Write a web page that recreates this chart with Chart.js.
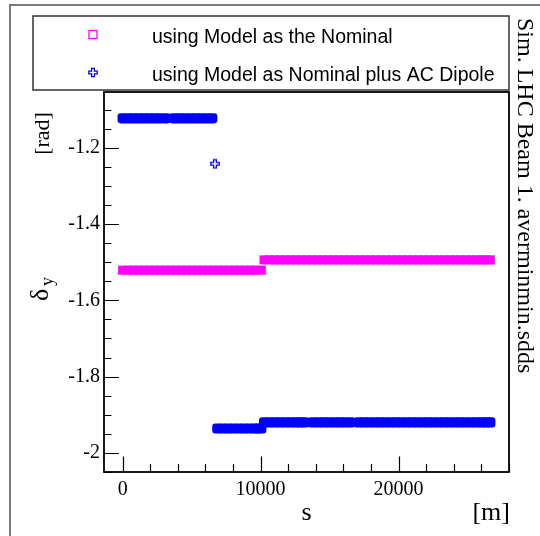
<!DOCTYPE html>
<html>
<head>
<meta charset="utf-8">
<script src="https://cdn.jsdelivr.net/npm/chart.js@4.4.1/dist/chart.umd.min.js"></script>
<style>
  html, body { margin: 0; padding: 0; background: #fff; }
</style>
</head>
<body>
<canvas id="myChart" width="540" height="536"></canvas>
<script>
// BPM positions s [m] and phase deviation delta_y [rad]
const sNominal = [
  0, 380, 770, 1150, 1540, 1920, 2310, 2690, 3080, 3460, 3850, 4230, 4620, 5000,
  5390, 5770, 6160, 6540, 6930, 7310, 7700, 8080, 8470, 8850, 9240, 9620, 10050,
  10250, 10630, 11020, 11400, 11790, 12170, 12560, 12940, 13330, 13710, 14100,
  14480, 14870, 15250, 15640, 16020, 16410, 16790, 17180, 17560, 17950, 18330,
  18720, 19100, 19490, 19870, 20260, 20640, 21030, 21410, 21800, 22180, 22570,
  22950, 23340, 23720, 24110, 24490, 24880, 25260, 25650, 26030, 26340, 26650
];
const dyNominal = [
  -1.521, -1.521, -1.521, -1.521, -1.521, -1.521, -1.521, -1.521, -1.521, -1.521,
  -1.521, -1.521, -1.521, -1.521, -1.521, -1.521, -1.521, -1.521, -1.521, -1.521,
  -1.521, -1.521, -1.521, -1.521, -1.521, -1.521, -1.521,
  -1.494, -1.494, -1.494, -1.494, -1.494, -1.494, -1.494, -1.494, -1.494, -1.494,
  -1.494, -1.494, -1.494, -1.494, -1.494, -1.494, -1.494, -1.494, -1.494, -1.494,
  -1.494, -1.494, -1.494, -1.494, -1.494, -1.494, -1.494, -1.494, -1.494, -1.494,
  -1.494, -1.494, -1.494, -1.494, -1.494, -1.494, -1.494, -1.494, -1.494, -1.494,
  -1.494, -1.494, -1.494, -1.494
];
const sAcDipole = [
  0, 390, 770, 1160, 1540, 1930, 2310, 2700, 3130, 3730, 4120, 4520, 4910, 5300,
  5700, 6100, 6500,
  6690,
  6860, 7240, 7630, 8010, 8400, 8780, 9170, 9550, 9800, 10050,
  10250, 10640, 11030, 11410, 11800, 12180, 12570, 12880, 13190, 13790, 14180,
  14570, 14960, 15350, 15740, 16130, 16510, 17110, 17500, 17890, 18280, 18670,
  19060, 19450, 19840, 20230, 20620, 21010, 21400, 21780, 22170, 22550, 22940,
  23320, 23710, 24090, 24480, 24860, 25250, 25630, 26020, 26340, 26650
];
const dyAcDipole = [
  -1.123, -1.123, -1.123, -1.123, -1.123, -1.123, -1.123, -1.123, -1.123, -1.123,
  -1.123, -1.123, -1.123, -1.123, -1.123, -1.123, -1.123,
  -1.242,
  -1.936, -1.936, -1.936, -1.936, -1.936, -1.936, -1.936, -1.936, -1.936, -1.936,
  -1.920, -1.920, -1.920, -1.920, -1.920, -1.920, -1.920, -1.920, -1.920, -1.920,
  -1.920, -1.920, -1.920, -1.920, -1.920, -1.920, -1.920, -1.920, -1.920, -1.920,
  -1.920, -1.920, -1.920, -1.920, -1.920, -1.920, -1.920, -1.920, -1.920, -1.920,
  -1.920, -1.920, -1.920, -1.920, -1.920, -1.920, -1.920, -1.920, -1.920, -1.920,
  -1.920, -1.920, -1.920
];

const legendLabels = ['using Model as the Nominal', 'using Model as Nominal plus AC Dipole'];
const xTickValues = [0, 10000, 20000];
const yTickValues = [-2, -1.8, -1.6, -1.4, -1.2];
const sideText = 'Sim. LHC Beam 1. averminmin.sdds';

const MAGENTA = '#ff00ff';
const BLUE = '#0000ff';
const SERIF = '"Liberation Serif", "Times New Roman", serif';
const SANS = '"Liberation Sans", Arial, sans-serif';

function openCrossPath(ctx, x, y, h) {
  const a = h / 3;
  ctx.beginPath();
  ctx.moveTo(x - a, y - h); ctx.lineTo(x + a, y - h); ctx.lineTo(x + a, y - a);
  ctx.lineTo(x + h, y - a); ctx.lineTo(x + h, y + a); ctx.lineTo(x + a, y + a);
  ctx.lineTo(x + a, y + h); ctx.lineTo(x - a, y + h); ctx.lineTo(x - a, y + a);
  ctx.lineTo(x - h, y + a); ctx.lineTo(x - h, y - a); ctx.lineTo(x - a, y - a);
  ctx.closePath();
}

// small image used for a lone point of the AC dipole series
const crossImg = document.createElement('canvas');
crossImg.width = 12; crossImg.height = 12;
(function () {
  const c = crossImg.getContext('2d');
  openCrossPath(c, 6, 6, 4.2);
  c.strokeStyle = BLUE; c.lineWidth = 1.3; c.stroke();
})();

function isolated(vals, i) {
  const prev = i > 0 ? Math.abs(vals[i] - vals[i - 1]) : 0;
  const next = i < vals.length - 1 ? Math.abs(vals[i] - vals[i + 1]) : 0;
  return prev > 0.05 && next > 0.05;
}

const rootFrame = {
  id: 'rootFrame',
  beforeDraw(chart) {
    const ctx = chart.ctx;
    ctx.save();
    ctx.fillStyle = '#fff';
    ctx.fillRect(0, 0, chart.width, chart.height);
    ctx.restore();
  },
  afterDraw(chart) {
    const ctx = chart.ctx;
    const { left, right, top, bottom } = chart.chartArea;
    const xs = chart.scales.x, ys = chart.scales.y;
    ctx.save();

    // outer pad border
    ctx.strokeStyle = '#7a7a7a';
    ctx.lineWidth = 2;
    ctx.beginPath();
    ctx.moveTo(10, 540); ctx.lineTo(10, 5); ctx.lineTo(540, 5);
    ctx.stroke();

    // tick marks, inside the frame
    ctx.strokeStyle = '#000';
    ctx.lineWidth = 1.2;
    ctx.beginPath();
    for (let v = -2.05; v <= ys.max + 1e-6; v += 0.05) {
      const y = Math.round(ys.getPixelForValue(v)) + 0.5;
      const major = yTickValues.some(t => Math.abs(t - v) < 1e-6);
      ctx.moveTo(left, y); ctx.lineTo(left + (major ? 15 : 7.5), y);
    }
    for (let v = 0; v <= xs.max; v += 2000) {
      const x = Math.round(xs.getPixelForValue(v)) + 0.5;
      const major = xTickValues.includes(v);
      ctx.moveTo(x, bottom); ctx.lineTo(x, bottom - (major ? 15.5 : 8));
    }
    ctx.stroke();

    // plot frame
    ctx.lineWidth = 1.8;
    ctx.strokeRect(left, top, right - left, bottom - top);

    // legend box
    ctx.fillStyle = '#fff';
    ctx.fillRect(33, 16, 476, 74);
    ctx.strokeStyle = '#333';
    ctx.lineWidth = 1.5;
    ctx.strokeRect(33, 16, 476, 74);
    ctx.strokeStyle = MAGENTA;
    ctx.lineWidth = 1.3;
    ctx.strokeRect(89, 30.5, 8, 8);
    openCrossPath(ctx, 93, 72.5, 4.2);
    ctx.strokeStyle = BLUE;
    ctx.stroke();
    ctx.fillStyle = '#000';
    ctx.font = '19.5px ' + SANS;
    ctx.textAlign = 'left';
    ctx.textBaseline = 'alphabetic';
    ctx.fillText(legendLabels[0], 152, 43);
    ctx.fillText(legendLabels[1], 152, 81);

    // axis titles
    ctx.font = '26px ' + SERIF;
    ctx.textAlign = 'center';
    ctx.fillText('s', (left + right) / 2, 520);
    ctx.textAlign = 'right';
    ctx.fillText('[m]', 510, 520);

    ctx.save();
    ctx.translate(49, 133.5);
    ctx.rotate(-Math.PI / 2);
    ctx.textAlign = 'center';
    ctx.font = '22px ' + SERIF;
    ctx.fillText('[rad]', 0, 0);
    ctx.restore();

    ctx.save();
    ctx.translate(48, 301);
    ctx.rotate(-Math.PI / 2);
    ctx.textAlign = 'left';
    ctx.font = '26px ' + SERIF;
    ctx.fillText('\u03b4', 0, 0);
    ctx.font = '18px ' + SERIF;
    ctx.fillText('y', 15, 5);
    ctx.restore();

    // file note on the right edge
    ctx.save();
    ctx.translate(518, 18);
    ctx.rotate(Math.PI / 2);
    ctx.textAlign = 'left';
    ctx.font = '24px ' + SERIF;
    ctx.fillText(sideText, 0, 0);
    ctx.restore();

    ctx.restore();
  }
};

new Chart(document.getElementById('myChart'), {
  type: 'scatter',
  data: {
    datasets: [
      {
        label: legendLabels[0],
        data: sNominal.map((s, i) => ({ x: s, y: dyNominal[i] })),
        pointStyle: 'rect',
        pointRadius: 6.4,
        backgroundColor: MAGENTA,
        borderWidth: 0
      },
      {
        label: legendLabels[1],
        data: sAcDipole.map((s, i) => ({ x: s, y: dyAcDipole[i] })),
        pointStyle: ctx => isolated(dyAcDipole, ctx.dataIndex) ? crossImg : 'rectRounded',
        pointRadius: 5.9,
        backgroundColor: BLUE,
        borderWidth: 0
      }
    ]
  },
  options: {
    responsive: false,
    animation: false,
    devicePixelRatio: 1,
    layout: { padding: { top: 92, right: 31, left: 0, bottom: 0 } },
    plugins: { legend: { display: false }, tooltip: { enabled: false } },
    scales: {
      x: {
        type: 'linear',
        min: -1350,
        max: 28000,
        grid: { display: false, drawTicks: false },
        border: { display: false },
        afterBuildTicks: scale => { scale.ticks = xTickValues.map(v => ({ value: v })); },
        afterFit: scale => { scale.height = 64; },
        ticks: {
          autoSkip: false,
          maxRotation: 0,
          padding: 6,
          color: '#000',
          font: { family: SERIF, size: 20 },
          callback: v => String(v)
        }
      },
      y: {
        type: 'linear',
        min: -2.05,
        max: -1.054,
        grid: { display: false, drawTicks: false },
        border: { display: false },
        afterBuildTicks: scale => { scale.ticks = yTickValues.map(v => ({ value: v })); },
        afterFit: scale => { scale.width = 104; },
        ticks: {
          padding: 4,
          color: '#000',
          font: { family: SERIF, size: 20 },
          callback: v => String(v)
        }
      }
    }
  },
  plugins: [rootFrame]
});
</script>
</body>
</html>
